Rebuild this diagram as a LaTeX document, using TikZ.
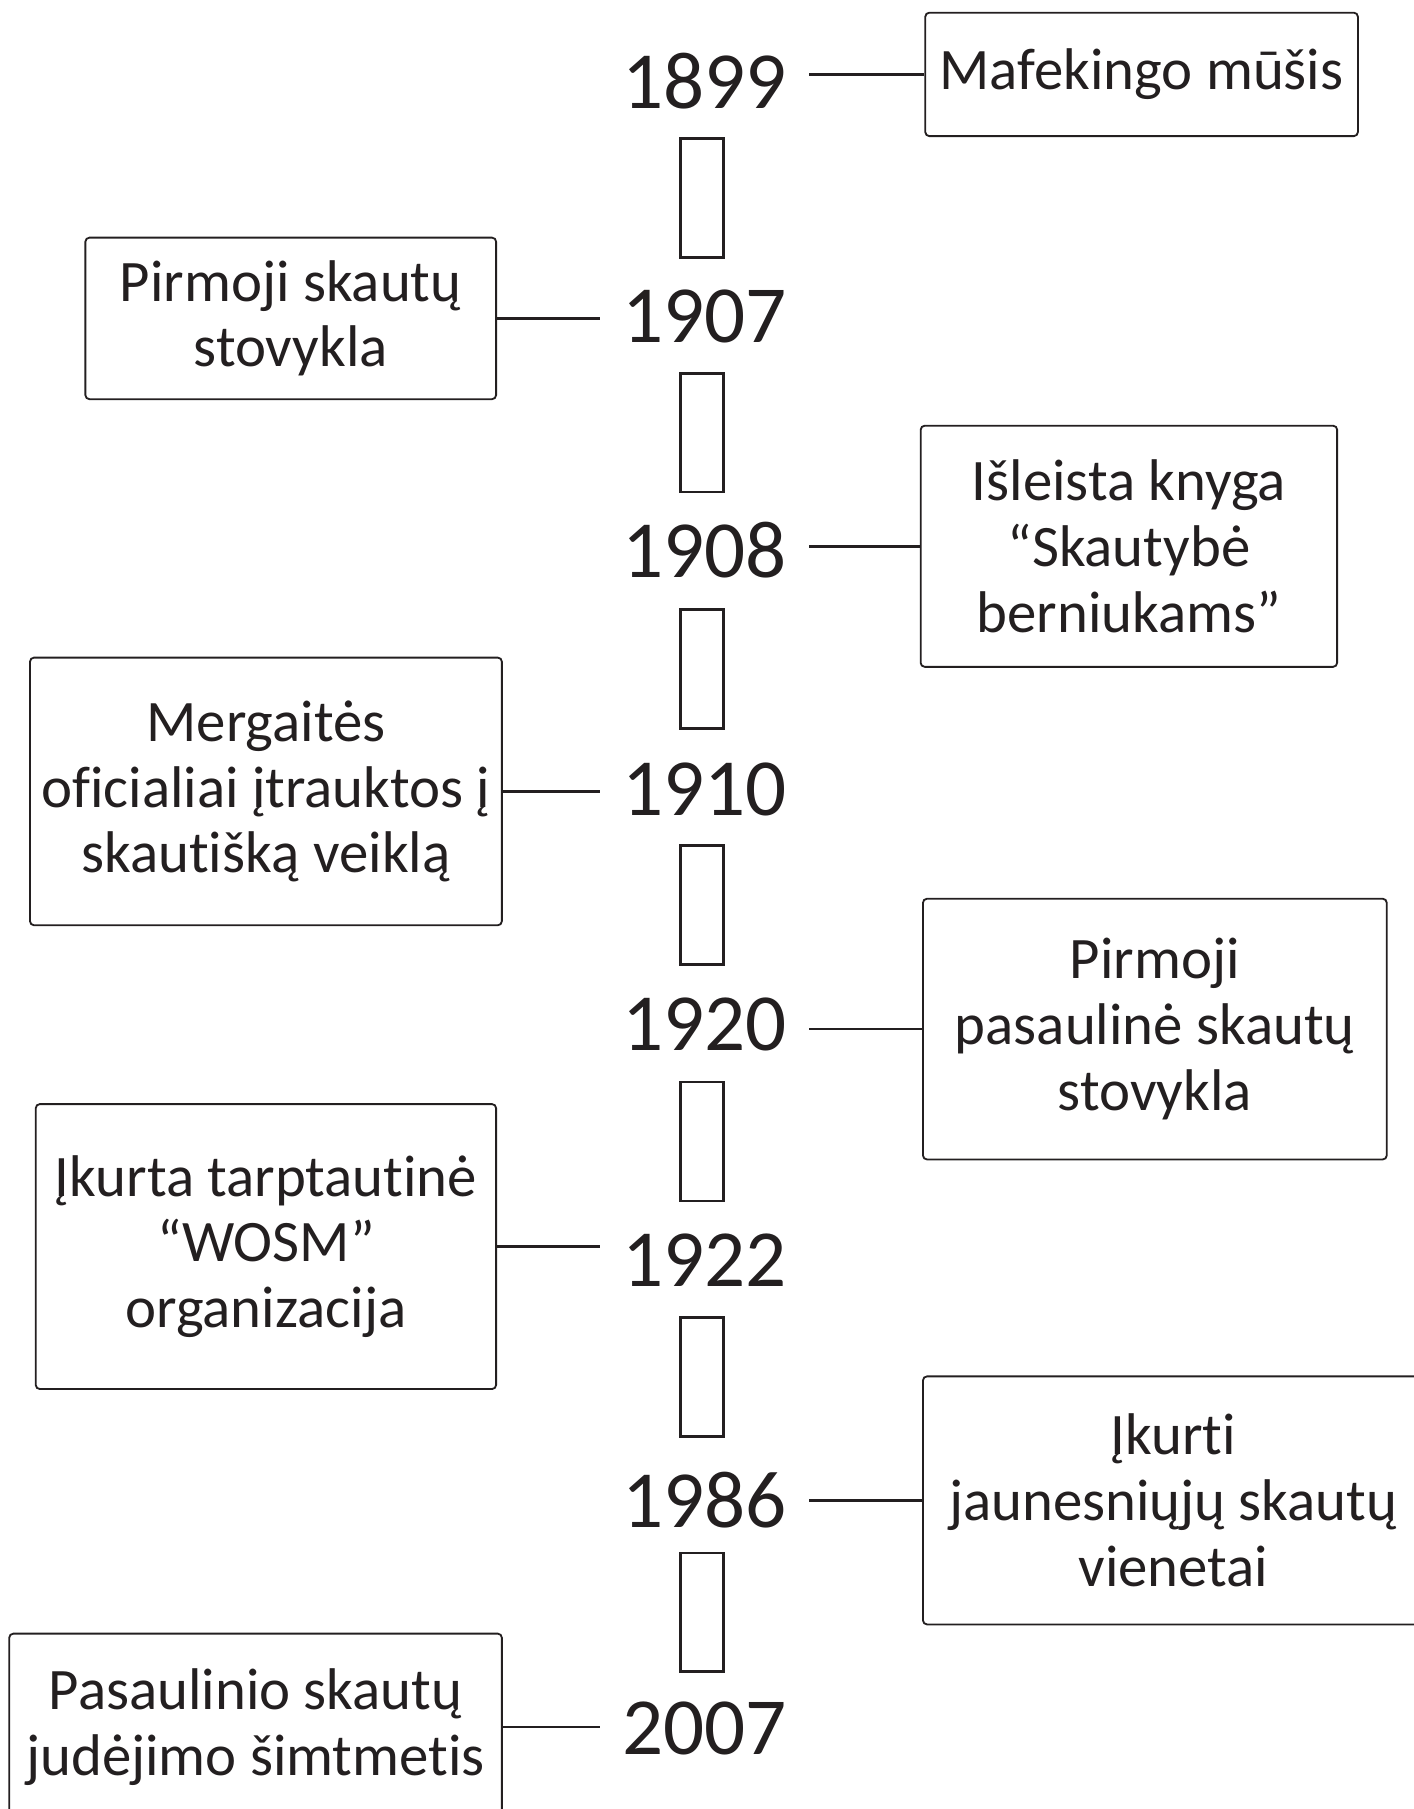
\documentclass[tikz,border=0pt]{standalone}
\usepackage{fontspec}
\setmainfont{Carlito}[Ligatures=NoCommon]
\definecolor{inkblack}{RGB}{35,31,32}

\begin{document}
\begin{tikzpicture}[
      evt/.style={draw=inkblack, line width=0.9pt, rounded corners=2pt,
                  align=center, text=inkblack, inner sep=0pt,
                  font=\fontsize{29}{32.4}\selectfont},
      yr/.style={text=inkblack, inner xsep=0.38cm, inner ysep=0pt,
                 font=\fontsize{40}{44}\selectfont},
      gapbox/.style={draw=inkblack, line width=1.3pt, inner sep=0pt,
                     minimum width=0.74cm, minimum height=2.06cm},
      lnk/.style={draw=inkblack, line width=1.3pt}
    ]
    \useasboundingbox (0,0) rectangle (24.5,-31.36);

    \node[yr] (y1) at (12.21,-1.40) {1899};
    \node[yr] (y2) at (12.21,-5.48) {1907};
    \node[yr] (y3) at (12.21,-9.53) {1908};
    \node[yr] (y4) at (12.21,-13.68) {1910};
    \node[yr] (y5) at (12.21,-17.76) {1920};
    \node[yr] (y6) at (12.21,-21.84) {1922};
    \node[yr] (y7) at (12.21,-26.00) {1986};
    \node[yr] (y8) at (12.21,-29.96) {2007};

    \node[gapbox] (g1) at (12.17,-3.43) {};
    \node[gapbox] (g2) at (12.17,-7.50) {};
    \node[gapbox] (g3) at (12.17,-11.60) {};
    \node[gapbox] (g4) at (12.17,-15.69) {};
    \node[gapbox] (g5) at (12.17,-19.79) {};
    \node[gapbox] (g6) at (12.17,-23.87) {};
    \node[gapbox] (g7) at (12.17,-27.95) {};

    \node[evt, minimum width=7.5cm, minimum height=2.14cm] (e1) at (19.79,-1.29) {%
      Mafekingo mūšis};
    \node[evt, minimum width=7.12cm, minimum height=2.8cm] (e2) at (5.04,-5.52) {%
      Pirmoji skautų\\
      stovykla};
    \node[evt, minimum width=7.22cm, minimum height=4.18cm] (e3) at (19.57,-9.47) {%
      Išleista knyga\\
      “Skautybė\\
      berniukams”};
    \node[evt, minimum width=8.18cm, minimum height=4.64cm] (e4) at (4.61,-13.72) {%
      Mergaitės\\
      oficialiai įtrauktos į\\
      skautišką veiklą};
    \node[evt, minimum width=8.04cm, minimum height=4.52cm] (e5) at (20.02,-17.84) {%
      Pirmoji\\
      pasaulinė skautų\\
      stovykla};
    \node[evt, minimum width=7.98cm, minimum height=4.94cm] (e6) at (4.61,-21.61) {%
      Įkurta tarptautinė\\
      “WOSM”\\
      organizacija};
    \node[evt, minimum width=8.68cm, minimum height=4.3cm] (e7) at (20.34,-26.01) {%
      Įkurti\\
      jaunesniųjų skautų\\
      vienetai};
    \node[evt, minimum width=8.54cm, minimum height=3.24cm] (e8) at (4.43,-29.94) {%
      Pasaulinio skautų\\
      judėjimo šimtmetis};

    \draw[lnk] (e1.west) -- (e1.west -| y1.east);
    \draw[lnk] (e2.east) -- (e2.east -| y2.west);
    \draw[lnk] (e3.west) -- (e3.west -| y3.east);
    \draw[lnk] (e4.east) -- (e4.east -| y4.west);
    \draw[lnk] (e5.west) -- (e5.west -| y5.east);
    \draw[lnk] (e6.east) -- (e6.east -| y6.west);
    \draw[lnk] (e7.west) -- (e7.west -| y7.east);
    \draw[lnk] (e8.east) -- (e8.east -| y8.west);
  \end{tikzpicture}
\end{document}
